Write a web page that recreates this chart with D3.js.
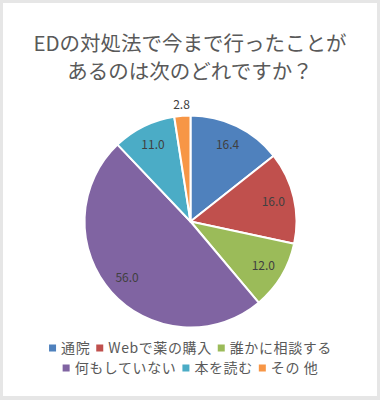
<!DOCTYPE html>
<html><head><meta charset="utf-8">
<script src="https://cdn.jsdelivr.net/npm/d3@7"></script>
<style>body{margin:0;background:#fff}svg{display:block}</style>
</head><body>
<svg id="c" width="380" height="400"></svg>
<script>
const categories = ["通院","Webで薬の購入","誰かに相談する","何もしていない","本を読む","その 他"];
const values = [16.4, 16.0, 12.0, 56.0, 11.0, 2.8];
const labels = ["16.4","16.0","12.0","56.0","11.0","2.8"];
const colors = ["#4F81BD","#C0504D","#9BBB59","#8064A2","#4BACC6","#F79646"];
const titleLines = ["EDの対処法で今まで行ったことが","あるのは次のどれですか？"];

const svg = d3.select("#c");
const font = "'Noto Sans CJK JP', 'Noto Sans', sans-serif";
svg.append("rect").attr("width",380).attr("height",400).attr("fill","#e6e6e6");
svg.append("rect").attr("x",3).attr("y",3).attr("width",374).attr("height",393).attr("fill","#fff");

svg.selectAll("text.title").data(titleLines).enter().append("text")
  .attr("class","title").attr("x",190).attr("y",(d,i)=>51+i*28)
  .attr("text-anchor","middle").attr("font-family",font).attr("font-size",20.5)
  .attr("fill","#595959").text(d=>d);

const cx = 190.5, cy = 221.5, R = 106;
const data = categories.map((c,i)=>({c, v:values[i], l:labels[i], col:colors[i]}));
const pie = d3.pie().value(d=>d.v).sort(null);
const arcs = pie(data);
const arc = d3.arc().innerRadius(0).outerRadius(R);
const g = svg.append("g").attr("transform",`translate(${cx},${cy})`);
g.selectAll("path").data(arcs).enter().append("path")
  .attr("d",arc).attr("fill",d=>d.data.col).attr("stroke","#fff").attr("stroke-width",2).attr("stroke-linejoin","round");

g.selectAll("text").data(arcs).enter().append("text")
  .attr("transform",d=>{
    const a=(d.startAngle+d.endAngle)/2;
    const small = (d.endAngle-d.startAngle) < 0.25;
    const r = small ? 117 : 85;
    return `translate(${Math.sin(a)*r},${-Math.cos(a)*r})`;
  })
  .attr("text-anchor","middle").attr("dy","0.35em")
  .attr("font-family",font).attr("font-size",12).attr("fill","#404040")
  .text(d=>d.data.l);

// legend
const rows = [[0,1,2],[3,4,5]];
const rowY = [348,368];
rows.forEach((row,ri)=>{
  const lg = svg.append("g");
  let x = 0;
  row.forEach(i=>{
    const it = lg.append("g").attr("transform",`translate(${x},0)`);
    it.append("rect").attr("x",0).attr("y",-3.5).attr("width",7).attr("height",7).attr("fill",colors[i]);
    const t = it.append("text").attr("x",12).attr("dy","0.35em")
      .attr("font-family",font).attr("font-size",14).attr("letter-spacing",0.6)
      .attr("fill","#595959").text(categories[i]);
    x += 12 + t.node().getComputedTextLength() + 6;
  });
  const w = x - 6;
  lg.attr("transform",`translate(${190.5 - w/2},${rowY[ri]})`);
});
</script>
</body></html>
